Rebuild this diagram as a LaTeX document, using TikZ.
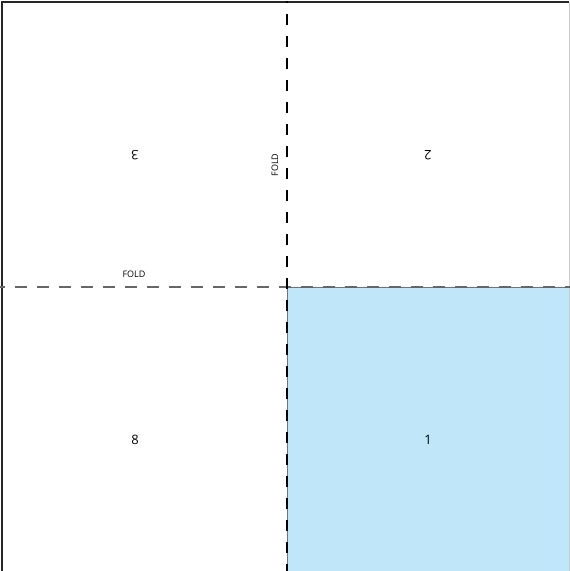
\documentclass[tikz,border=0pt]{standalone}
\usepackage{fontspec}
\setmainfont{Open Sans}
\begin{document}
\begin{tikzpicture}[x=1pt,y=-1pt,
  foldv/.style={draw=black,line width=1.7pt,dash pattern=on 11pt off 11pt,dash phase=9pt},
  foldh/.style={draw=black!60,line width=2pt,dash pattern=on 12pt off 10pt,dash phase=7pt},
  num/.style={font=\fontsize{13}{15}\selectfont,inner sep=0pt},
  lbl/.style={font=\fontsize{9}{11}\selectfont,inner sep=0pt}]
\useasboundingbox (0,0) rectangle (570,571);
\fill[white] (0,0) rectangle (570,571);
% panel 1
\fill[fill={rgb,255:red,192;green,230;blue,250}] (287,287) rectangle (570,571);
\draw[black!55,line width=0.8pt] (287,571) -- (287,287) -- (570,287);
% border
\draw[black!20,line width=1pt] (569,2) -- (569,571);
\draw[black!85,line width=1.5pt] (2,571) -- (2,2) -- (569,2);
% fold lines
\coordinate (vt) at (287,1);
\coordinate (vb) at (287,571);
\coordinate (hl) at (0,287);
\coordinate (hr) at (570,287);
\draw[foldh] (hl) -- (hr);
\draw[foldv] (vt) -- (vb);
% labels
\node[num,rotate=180] (p3) at (135,155) {3};
\node[num,rotate=180] (p2) at (428,155) {2};
\node[num] (p8) at (135,440) {8};
\node[num] (p1) at (428,440) {1};
\node[lbl,rotate=90] (f1) at (275,165) {FOLD};
\node[lbl] (f2) at (134,274) {FOLD};
\end{tikzpicture}
\end{document}
